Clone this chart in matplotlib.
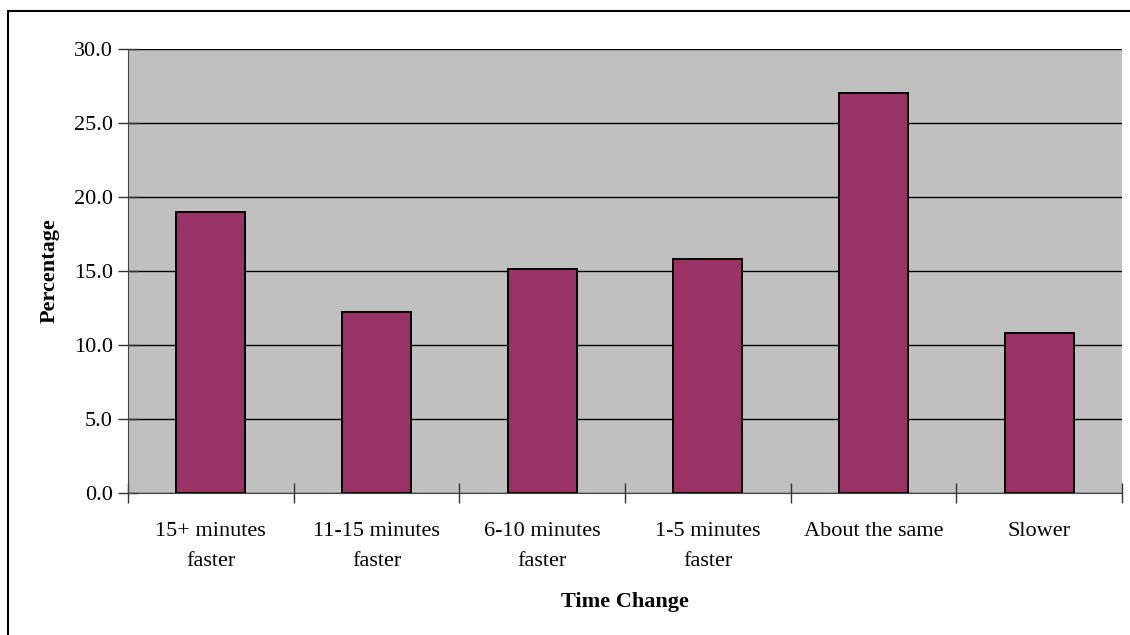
import numpy as np
import matplotlib.pyplot as plt
from matplotlib.patches import Rectangle

# travel time change categories and share of respondents (%)
categories = ['15+ minutes\nfaster', '11-15 minutes\nfaster', '6-10 minutes\nfaster',
              '1-5 minutes\nfaster', 'About the same', 'Slower']
percentages = [19.0, 12.2, 15.1, 15.8, 27.0, 10.8]
y_ticks = [0, 5, 10, 15, 20, 25, 30]

plt.rcParams['font.family'] = ['Liberation Serif', 'DejaVu Serif']

fig = plt.figure(figsize=(11.3, 6.35), dpi=100)
ax = fig.add_axes([0.1133, 0.2241, 0.8796, 0.6987])

x = np.arange(len(categories))
ax.set_facecolor('#C0C0C0')
ax.bar(x, percentages, width=0.415, color='#993366', edgecolor='black',
       linewidth=1.4, zorder=3)

ax.set_xlim(-0.5, len(categories) - 0.5)
ax.set_ylim(0, 30)
ax.set_yticks(y_ticks)
ax.set_yticklabels([f'{v:.1f}' for v in y_ticks], fontsize=16)
ax.yaxis.grid(True, color='black', linewidth=1, zorder=1)
ax.set_axisbelow(True)

# category labels centred under bars, tick marks between categories
ax.set_xticks(x)
ax.set_xticklabels(categories, fontsize=16, linespacing=1.8)
ax.tick_params(axis='x', which='major', length=0, pad=21)
ax.set_xticks(np.arange(-0.5, len(categories)), minor=True)
ax.tick_params(axis='x', which='minor', direction='inout', length=14,
               width=1, color='#333333')
ax.tick_params(axis='y', direction='inout', length=14, width=1,
               color='#333333', pad=4)

for side in ['top', 'right']:
    ax.spines[side].set_visible(False)
ax.spines['left'].set_color('#444444')
ax.spines['bottom'].set_color('#444444')

ax.set_ylabel('Percentage', fontsize=16, fontweight='bold', labelpad=10)
ax.set_xlabel('Time Change', fontsize=16, fontweight='bold', labelpad=15)

# chart area border
fig.patches.append(Rectangle((8 / 1130, -0.1), 1.2, 1 - 11 / 635 + 0.1,
                             transform=fig.transFigure, fill=False,
                             edgecolor='black', linewidth=1.5))

fig.savefig('out.png', dpi=100)
